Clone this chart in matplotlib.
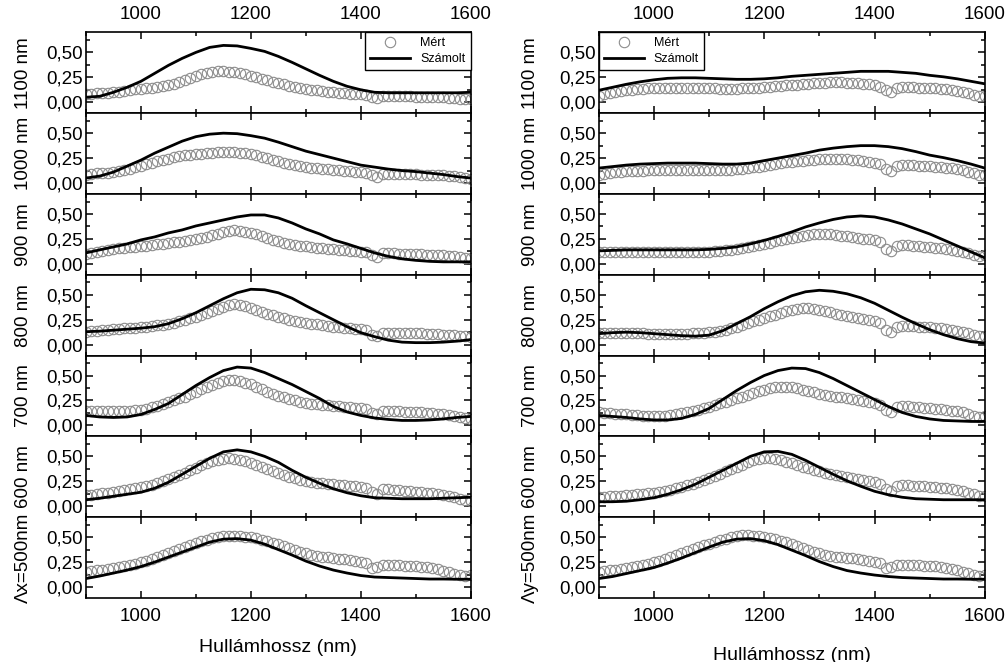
import matplotlib
matplotlib.use('Agg')
import matplotlib.pyplot as plt
from matplotlib.ticker import MultipleLocator, FuncFormatter

plt.rcParams['font.family'] = ['Liberation Sans', 'DejaVu Sans']

# wavelength grids (nm)
lam_mert = list(range(900, 1601, 10))
lam_szam = list(range(900, 1601, 25))

# --- x polarisation, measured ("Mert") ---
mx_1100 = [0.08, 0.085, 0.095, 0.09, 0.095, 0.10, 0.105, 0.11, 0.12, 0.13,
           0.135, 0.14, 0.145, 0.155, 0.165, 0.175, 0.185, 0.20, 0.22, 0.24,
           0.26, 0.28, 0.295, 0.305, 0.31, 0.31, 0.305, 0.30, 0.29, 0.28,
           0.265, 0.25, 0.235, 0.22, 0.205, 0.19, 0.18, 0.165, 0.155, 0.145,
           0.135, 0.125, 0.12, 0.11, 0.105, 0.10, 0.095, 0.09, 0.085, 0.08,
           0.08, 0.075, 0.055, 0.04, 0.065, 0.065, 0.065, 0.06, 0.06, 0.06,
           0.055, 0.055, 0.055, 0.05, 0.05, 0.05, 0.045, 0.04, 0.035, 0.035,
           0.035]
mx_1000 = [0.08, 0.09, 0.10, 0.10, 0.105, 0.11, 0.12, 0.13, 0.145, 0.16,
           0.175, 0.19, 0.205, 0.22, 0.235, 0.245, 0.26, 0.27, 0.28, 0.285,
           0.29, 0.295, 0.30, 0.305, 0.31, 0.31, 0.31, 0.31, 0.305, 0.30,
           0.29, 0.28, 0.265, 0.25, 0.235, 0.22, 0.205, 0.19, 0.18, 0.17,
           0.16, 0.155, 0.15, 0.145, 0.14, 0.135, 0.13, 0.125, 0.12, 0.115,
           0.11, 0.105, 0.08, 0.06, 0.09, 0.095, 0.095, 0.09, 0.09, 0.09,
           0.09, 0.085, 0.085, 0.08, 0.08, 0.08, 0.075, 0.07, 0.06, 0.05,
           0.045]
mx_900 = [0.10, 0.11, 0.12, 0.13, 0.14, 0.15, 0.155, 0.16, 0.165, 0.17,
          0.175, 0.18, 0.19, 0.195, 0.20, 0.21, 0.215, 0.22, 0.23, 0.24,
          0.25, 0.26, 0.27, 0.285, 0.30, 0.315, 0.33, 0.335, 0.33, 0.32,
          0.31, 0.295, 0.28, 0.26, 0.24, 0.225, 0.21, 0.195, 0.185, 0.18,
          0.175, 0.165, 0.16, 0.155, 0.15, 0.145, 0.14, 0.135, 0.13, 0.125,
          0.12, 0.115, 0.09, 0.07, 0.11, 0.11, 0.105, 0.10, 0.10, 0.10,
          0.095, 0.095, 0.09, 0.09, 0.085, 0.085, 0.08, 0.075, 0.07, 0.06,
          0.055]
mx_800 = [0.13, 0.135, 0.14, 0.145, 0.15, 0.155, 0.16, 0.165, 0.17, 0.17,
          0.175, 0.18, 0.19, 0.195, 0.20, 0.21, 0.22, 0.235, 0.25, 0.265,
          0.28, 0.30, 0.32, 0.34, 0.36, 0.38, 0.40, 0.41, 0.40, 0.385,
          0.365, 0.345, 0.33, 0.31, 0.295, 0.28, 0.265, 0.25, 0.24, 0.23,
          0.22, 0.21, 0.205, 0.195, 0.19, 0.18, 0.175, 0.17, 0.165, 0.16,
          0.155, 0.145, 0.10, 0.085, 0.12, 0.12, 0.12, 0.12, 0.12, 0.115,
          0.115, 0.115, 0.11, 0.11, 0.105, 0.10, 0.10, 0.095, 0.09, 0.085,
          0.08]
mx_700 = [0.14, 0.14, 0.14, 0.14, 0.14, 0.14, 0.14, 0.145, 0.145, 0.15,
          0.155, 0.165, 0.18, 0.195, 0.21, 0.23, 0.25, 0.27, 0.29, 0.315,
          0.34, 0.365, 0.39, 0.41, 0.43, 0.45, 0.46, 0.455, 0.445, 0.43,
          0.415, 0.39, 0.365, 0.34, 0.32, 0.30, 0.28, 0.265, 0.25, 0.235,
          0.225, 0.215, 0.21, 0.205, 0.20, 0.195, 0.19, 0.185, 0.18, 0.175,
          0.17, 0.16, 0.12, 0.11, 0.145, 0.145, 0.14, 0.14, 0.135, 0.135,
          0.13, 0.13, 0.125, 0.12, 0.115, 0.11, 0.105, 0.095, 0.085, 0.075,
          0.065]
mx_600 = [0.11, 0.115, 0.12, 0.13, 0.135, 0.145, 0.155, 0.16, 0.17, 0.18,
          0.19, 0.20, 0.215, 0.23, 0.25, 0.27, 0.29, 0.31, 0.335, 0.36,
          0.385, 0.41, 0.43, 0.45, 0.465, 0.475, 0.48, 0.475, 0.465, 0.45,
          0.435, 0.415, 0.395, 0.375, 0.355, 0.335, 0.315, 0.295, 0.28, 0.265,
          0.25, 0.24, 0.235, 0.23, 0.225, 0.22, 0.215, 0.21, 0.205, 0.20,
          0.195, 0.185, 0.14, 0.125, 0.17, 0.17, 0.165, 0.16, 0.155, 0.15,
          0.145, 0.14, 0.135, 0.13, 0.12, 0.115, 0.10, 0.09, 0.075, 0.06,
          0.05]
mx_500 = [0.15, 0.165, 0.17, 0.175, 0.18, 0.19, 0.20, 0.21, 0.22, 0.235,
          0.25, 0.265, 0.28, 0.30, 0.32, 0.34, 0.36, 0.38, 0.40, 0.42,
          0.44, 0.46, 0.475, 0.49, 0.50, 0.51, 0.515, 0.515, 0.51, 0.505,
          0.50, 0.49, 0.475, 0.46, 0.445, 0.43, 0.41, 0.39, 0.37, 0.355,
          0.34, 0.325, 0.315, 0.305, 0.30, 0.29, 0.285, 0.28, 0.27, 0.265,
          0.255, 0.24, 0.19, 0.20, 0.225, 0.225, 0.225, 0.22, 0.215, 0.21,
          0.21, 0.205, 0.20, 0.19, 0.18, 0.165, 0.15, 0.135, 0.12, 0.11,
          0.12]

# --- x polarisation, calculated ("Szamolt") ---
sx_1100 = [0.05, 0.06, 0.10, 0.15, 0.21, 0.29, 0.37, 0.44, 0.50, 0.55,
           0.57, 0.565, 0.54, 0.51, 0.46, 0.40, 0.335, 0.27, 0.21, 0.16,
           0.125, 0.10, 0.095, 0.095, 0.095, 0.095, 0.095, 0.095, 0.10]
sx_1000 = [0.05, 0.07, 0.11, 0.17, 0.23, 0.30, 0.36, 0.42, 0.465, 0.49,
           0.50, 0.495, 0.475, 0.45, 0.41, 0.365, 0.32, 0.285, 0.25, 0.215,
           0.18, 0.16, 0.14, 0.125, 0.115, 0.10, 0.085, 0.065, 0.05]
sx_900 = [0.11, 0.14, 0.17, 0.20, 0.24, 0.27, 0.31, 0.34, 0.38, 0.41,
          0.44, 0.47, 0.49, 0.49, 0.46, 0.41, 0.35, 0.30, 0.24, 0.20,
          0.155, 0.11, 0.075, 0.05, 0.035, 0.025, 0.02, 0.02, 0.02]
sx_800 = [0.13, 0.135, 0.145, 0.155, 0.165, 0.18, 0.21, 0.26, 0.32, 0.39,
          0.46, 0.52, 0.555, 0.55, 0.52, 0.465, 0.39, 0.32, 0.25, 0.18,
          0.12, 0.08, 0.045, 0.025, 0.02, 0.02, 0.025, 0.035, 0.05]
sx_700 = [0.10, 0.085, 0.08, 0.085, 0.11, 0.16, 0.22, 0.31, 0.40, 0.48,
          0.55, 0.585, 0.575, 0.53, 0.47, 0.41, 0.34, 0.27, 0.19, 0.135,
          0.10, 0.075, 0.06, 0.05, 0.05, 0.055, 0.065, 0.08, 0.09]
sx_600 = [0.065, 0.08, 0.10, 0.12, 0.14, 0.18, 0.24, 0.32, 0.40, 0.48,
          0.545, 0.565, 0.545, 0.50, 0.44, 0.36, 0.29, 0.23, 0.175, 0.135,
          0.105, 0.085, 0.08, 0.075, 0.075, 0.075, 0.08, 0.085, 0.09]
sx_500 = [0.085, 0.11, 0.14, 0.17, 0.205, 0.25, 0.30, 0.35, 0.40, 0.45,
          0.48, 0.485, 0.47, 0.43, 0.375, 0.32, 0.26, 0.21, 0.17, 0.14,
          0.115, 0.10, 0.095, 0.09, 0.085, 0.08, 0.08, 0.078, 0.078]

# --- y polarisation, measured ---
my_1100 = [0.06, 0.08, 0.095, 0.105, 0.115, 0.12, 0.125, 0.13, 0.135, 0.14,
           0.14, 0.145, 0.145, 0.145, 0.145, 0.145, 0.145, 0.145, 0.145, 0.14,
           0.14, 0.14, 0.135, 0.135, 0.135, 0.135, 0.14, 0.14, 0.145, 0.145,
           0.15, 0.155, 0.16, 0.165, 0.17, 0.175, 0.175, 0.18, 0.185, 0.19,
           0.195, 0.195, 0.20, 0.20, 0.20, 0.195, 0.195, 0.19, 0.185, 0.18,
           0.17, 0.155, 0.12, 0.10, 0.14, 0.15, 0.15, 0.15, 0.145, 0.145,
           0.14, 0.14, 0.135, 0.13, 0.125, 0.115, 0.105, 0.09, 0.075, 0.065,
           0.065]
my_1000 = [0.08, 0.095, 0.105, 0.11, 0.115, 0.12, 0.12, 0.125, 0.125, 0.13,
           0.13, 0.13, 0.13, 0.135, 0.135, 0.135, 0.135, 0.135, 0.135, 0.135,
           0.135, 0.135, 0.135, 0.135, 0.135, 0.14, 0.145, 0.15, 0.16, 0.165,
           0.175, 0.185, 0.195, 0.205, 0.21, 0.215, 0.22, 0.225, 0.23, 0.235,
           0.24, 0.24, 0.245, 0.245, 0.24, 0.24, 0.235, 0.23, 0.225, 0.215,
           0.205, 0.19, 0.14, 0.12, 0.175, 0.185, 0.185, 0.18, 0.175, 0.17,
           0.17, 0.165, 0.16, 0.155, 0.15, 0.14, 0.13, 0.115, 0.10, 0.085,
           0.08]
my_900 = [0.12, 0.12, 0.115, 0.115, 0.115, 0.115, 0.115, 0.115, 0.115, 0.115,
          0.115, 0.115, 0.115, 0.115, 0.115, 0.115, 0.115, 0.115, 0.115, 0.115,
          0.12, 0.125, 0.13, 0.135, 0.14, 0.15, 0.16, 0.17, 0.18, 0.19,
          0.20, 0.21, 0.225, 0.235, 0.25, 0.26, 0.27, 0.28, 0.29, 0.295,
          0.30, 0.30, 0.295, 0.29, 0.28, 0.275, 0.265, 0.26, 0.25, 0.245,
          0.235, 0.215, 0.15, 0.13, 0.18, 0.19, 0.185, 0.18, 0.175, 0.17,
          0.165, 0.16, 0.155, 0.15, 0.14, 0.13, 0.12, 0.105, 0.09, 0.08,
          0.09]
my_800 = [0.12, 0.12, 0.12, 0.12, 0.12, 0.12, 0.115, 0.115, 0.115, 0.11,
          0.11, 0.11, 0.11, 0.11, 0.11, 0.11, 0.11, 0.115, 0.115, 0.12,
          0.125, 0.13, 0.14, 0.15, 0.165, 0.18, 0.195, 0.215, 0.235, 0.25,
          0.265, 0.285, 0.30, 0.32, 0.34, 0.35, 0.36, 0.365, 0.365, 0.36,
          0.35, 0.34, 0.325, 0.31, 0.30, 0.285, 0.275, 0.265, 0.255, 0.245,
          0.235, 0.215, 0.15, 0.13, 0.18, 0.19, 0.19, 0.185, 0.18, 0.18,
          0.175, 0.17, 0.165, 0.155, 0.145, 0.135, 0.125, 0.115, 0.10, 0.09,
          0.09]
my_700 = [0.13, 0.125, 0.12, 0.115, 0.115, 0.11, 0.105, 0.10, 0.095, 0.09,
          0.09, 0.09, 0.095, 0.10, 0.11, 0.12, 0.13, 0.14, 0.155, 0.17,
          0.185, 0.20, 0.22, 0.235, 0.255, 0.275, 0.29, 0.31, 0.325, 0.345,
          0.36, 0.375, 0.385, 0.39, 0.39, 0.385, 0.375, 0.36, 0.35, 0.335,
          0.32, 0.31, 0.30, 0.29, 0.28, 0.27, 0.26, 0.25, 0.24, 0.23,
          0.22, 0.20, 0.15, 0.13, 0.18, 0.19, 0.19, 0.185, 0.18, 0.175,
          0.17, 0.165, 0.16, 0.155, 0.145, 0.14, 0.13, 0.115, 0.095, 0.08,
          0.09]
my_600 = [0.09, 0.095, 0.10, 0.105, 0.105, 0.11, 0.115, 0.12, 0.125, 0.13,
          0.135, 0.145, 0.155, 0.165, 0.18, 0.195, 0.21, 0.225, 0.245, 0.26,
          0.28, 0.30, 0.325, 0.35, 0.37, 0.39, 0.415, 0.44, 0.46, 0.475,
          0.485, 0.485, 0.475, 0.46, 0.445, 0.43, 0.41, 0.395, 0.38, 0.365,
          0.35, 0.335, 0.325, 0.315, 0.305, 0.295, 0.285, 0.275, 0.265, 0.255,
          0.245, 0.225, 0.17, 0.155, 0.205, 0.21, 0.21, 0.205, 0.205, 0.20,
          0.195, 0.19, 0.185, 0.18, 0.17, 0.16, 0.15, 0.135, 0.12, 0.105,
          0.10]
my_500 = [0.15, 0.165, 0.17, 0.175, 0.18, 0.19, 0.20, 0.21, 0.22, 0.235,
          0.25, 0.265, 0.28, 0.30, 0.32, 0.34, 0.36, 0.38, 0.40, 0.42,
          0.435, 0.455, 0.47, 0.485, 0.50, 0.51, 0.52, 0.52, 0.515, 0.51,
          0.50, 0.49, 0.48, 0.465, 0.45, 0.43, 0.41, 0.39, 0.37, 0.355,
          0.34, 0.325, 0.315, 0.305, 0.30, 0.295, 0.29, 0.28, 0.27, 0.265,
          0.255, 0.24, 0.19, 0.20, 0.225, 0.225, 0.225, 0.22, 0.22, 0.215,
          0.215, 0.21, 0.205, 0.195, 0.185, 0.17, 0.155, 0.14, 0.12, 0.11,
          0.125]

# --- y polarisation, calculated ---
sy_1100 = [0.12, 0.15, 0.18, 0.205, 0.225, 0.24, 0.245, 0.245, 0.24, 0.235,
           0.23, 0.23, 0.235, 0.245, 0.26, 0.27, 0.28, 0.29, 0.30, 0.31,
           0.31, 0.31, 0.30, 0.29, 0.27, 0.255, 0.235, 0.21, 0.185]
sy_1000 = [0.15, 0.165, 0.18, 0.19, 0.195, 0.20, 0.20, 0.20, 0.195, 0.19,
           0.19, 0.20, 0.225, 0.25, 0.275, 0.30, 0.33, 0.35, 0.365, 0.375,
           0.375, 0.365, 0.345, 0.315, 0.28, 0.255, 0.225, 0.19, 0.15]
sy_900 = [0.13, 0.135, 0.14, 0.14, 0.14, 0.14, 0.14, 0.14, 0.145, 0.155,
          0.17, 0.20, 0.235, 0.275, 0.32, 0.37, 0.41, 0.445, 0.47, 0.48,
          0.47, 0.44, 0.40, 0.35, 0.30, 0.24, 0.18, 0.12, 0.06]
sy_800 = [0.11, 0.12, 0.125, 0.12, 0.11, 0.10, 0.09, 0.085, 0.095, 0.14,
          0.21, 0.28, 0.36, 0.43, 0.49, 0.53, 0.545, 0.535, 0.51, 0.47,
          0.415, 0.345, 0.275, 0.21, 0.15, 0.10, 0.06, 0.03, 0.015]
sy_700 = [0.10, 0.09, 0.08, 0.065, 0.055, 0.055, 0.07, 0.11, 0.17, 0.26,
          0.35, 0.43, 0.50, 0.55, 0.575, 0.57, 0.53, 0.47, 0.40, 0.33,
          0.26, 0.19, 0.13, 0.09, 0.065, 0.05, 0.045, 0.04, 0.04]
sy_600 = [0.045, 0.045, 0.05, 0.065, 0.085, 0.12, 0.165, 0.22, 0.29, 0.36,
          0.43, 0.50, 0.545, 0.55, 0.52, 0.46, 0.39, 0.32, 0.255, 0.20,
          0.15, 0.115, 0.09, 0.075, 0.07, 0.065, 0.065, 0.065, 0.065]
sy_500 = [0.085, 0.105, 0.135, 0.165, 0.195, 0.24, 0.29, 0.345, 0.40, 0.45,
          0.48, 0.485, 0.465, 0.425, 0.37, 0.315, 0.255, 0.205, 0.165, 0.14,
          0.12, 0.105, 0.095, 0.09, 0.085, 0.08, 0.08, 0.078, 0.078]

labels_x = ['1100 nm', '1000 nm', '900 nm', '800 nm', '700 nm', '600 nm', 'Λx=500nm']
labels_y = ['1100 nm', '1000 nm', '900 nm', '800 nm', '700 nm', '600 nm', 'Λy=500nm']

left_col = [(mx_1100, sx_1100), (mx_1000, sx_1000), (mx_900, sx_900), (mx_800, sx_800),
            (mx_700, sx_700), (mx_600, sx_600), (mx_500, sx_500)]
right_col = [(my_1100, sy_1100), (my_1000, sy_1000), (my_900, sy_900), (my_800, sy_800),
             (my_700, sy_700), (my_600, sy_600), (my_500, sy_500)]

comma = FuncFormatter(lambda v, p: f'{v:.2f}'.replace('.', ','))


def draw_column(gs, data, labels, legend_loc, ylabel_x, xlabel_pad):
    for i, (mert, szam) in enumerate(data):
        ax = fig.add_subplot(gs[i, 0])
        ax.plot(lam_mert, mert, 'o', ms=7.5, mfc='none', mec='#8c8c8c', mew=0.8,
                label='Mért', zorder=2)
        ax.plot(lam_szam, szam, '-', color='black', lw=2.0, label='Számolt', zorder=3)
        ax.set_xlim(900, 1600)
        ax.set_ylim(-0.11, 0.70)
        ax.xaxis.set_major_locator(MultipleLocator(200))
        ax.xaxis.set_minor_locator(MultipleLocator(100))
        ax.yaxis.set_major_locator(MultipleLocator(0.25))
        ax.yaxis.set_minor_locator(MultipleLocator(0.125))
        ax.yaxis.set_major_formatter(comma)
        ax.tick_params(which='both', direction='in', top=True, right=True,
                       width=1.1, labelsize=13.5,
                       labeltop=(i == 0), labelbottom=(i == len(data) - 1))
        ax.tick_params(axis='x', which='both', pad=7)
        ax.tick_params(axis='y', which='both', pad=2)
        ax.tick_params(which='major', length=5)
        ax.tick_params(which='minor', length=3)
        for s in ax.spines.values():
            s.set_linewidth(1.2)
        ax.set_ylabel(labels[i], fontsize=13.5)
        ax.yaxis.set_label_coords(ylabel_x, 0.5)
        if i == 0:
            ax.legend(loc=legend_loc, fontsize=9, frameon=True, fancybox=False,
                      edgecolor='black', framealpha=1, borderaxespad=0,
                      handlelength=3.2, borderpad=0.4, labelspacing=0.3)
        if i == len(data) - 1:
            ax.set_xlabel('Hullámhossz (nm)', fontsize=14, labelpad=xlabel_pad)


fig = plt.figure(figsize=(10.08, 6.62), dpi=100)
gs_left = fig.add_gridspec(7, 1, left=0.0853, right=0.467, top=0.951, bottom=0.0967, hspace=0)
gs_right = fig.add_gridspec(7, 1, left=0.594, right=0.977, top=0.951, bottom=0.0967, hspace=0)

draw_column(gs_left, left_col, labels_x, 'upper right', -0.14, 10)
draw_column(gs_right, right_col, labels_y, 'upper left', -0.155, 16)

fig.savefig('out.png', dpi=100)
